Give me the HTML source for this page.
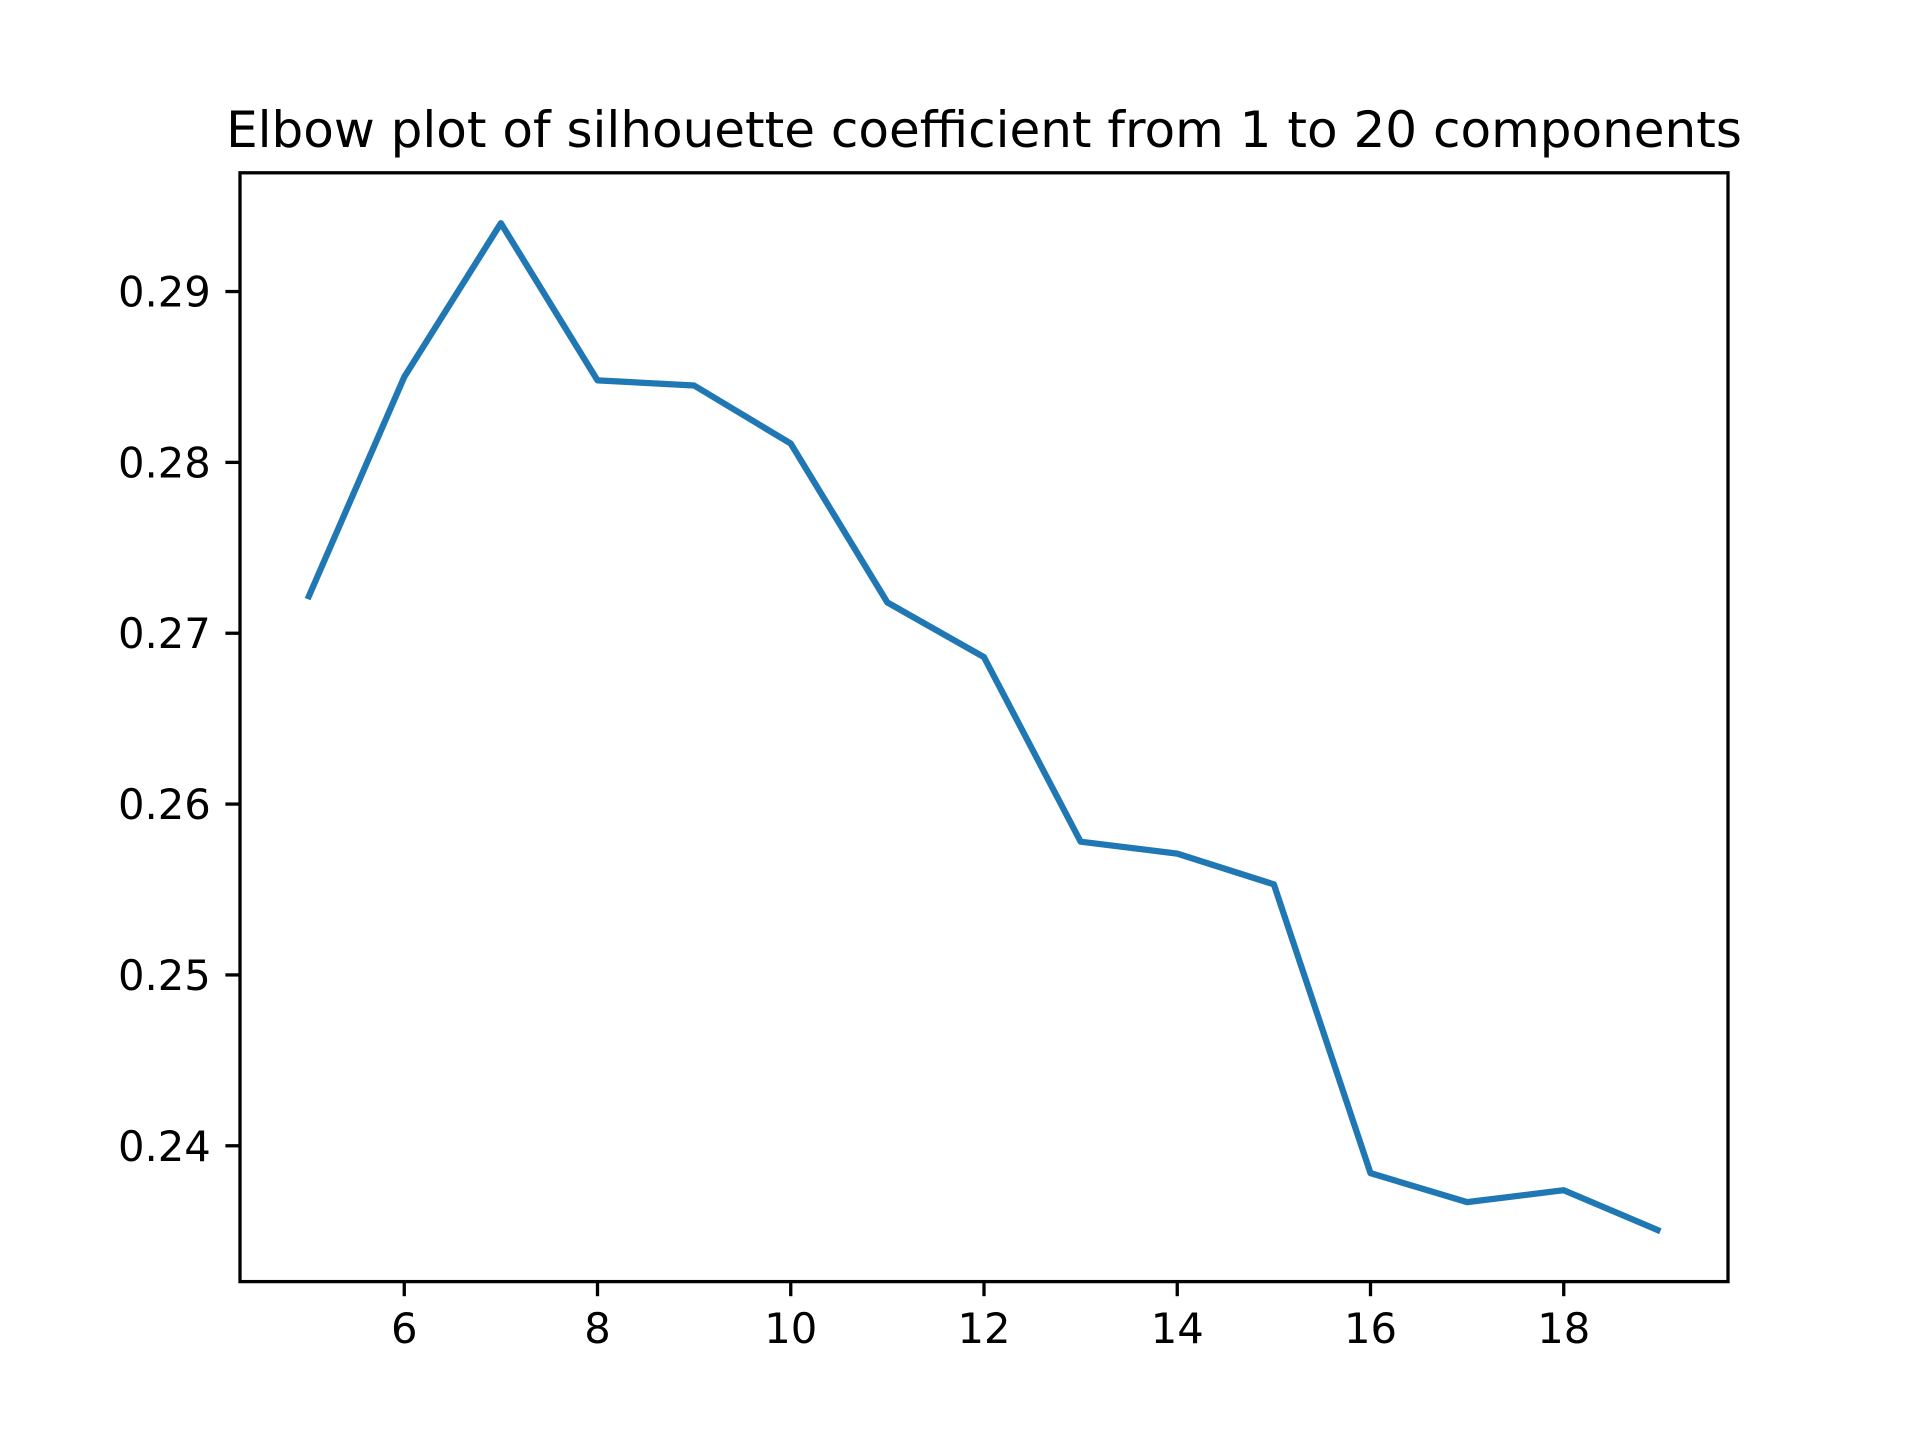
<!DOCTYPE html>
<html><head><meta charset="utf-8"><style>
html,body{margin:0;padding:0;background:#fff;}
svg text{font-family:"DejaVu Sans","Liberation Sans",sans-serif;fill:#000;}
</style></head><body>
<svg id="chart" width="1920" height="1440" viewBox="0 0 1920 1440" xmlns="http://www.w3.org/2000/svg">
<rect width="1920" height="1440" fill="#fff"/>
<text x="984" y="147" font-size="50" text-anchor="middle">Elbow plot of silhouette coefficient from 1 to 20 components</text>
<g id="xticks"></g>
<g id="yticks"></g>
<g id="series"></g>
<rect x="240" y="172.8" width="1488" height="1108.8" fill="none" stroke="#000" stroke-width="3.3"/>
</svg>
<script>
const components = [5,6,7,8,9,10,11,12,13,14,15,16,17,18,19];
const silhouette = [0.2720,0.2850,0.2940,0.2848,0.2845,0.2811,0.2718,0.2686,0.2578,0.2571,0.2553,0.2384,0.2367,0.2374,0.2350];
const xTickValues = [6,8,10,12,14,16,18];
const yTickValues = [0.24,0.25,0.26,0.27,0.28,0.29];
const yTickLabels = ["0.24","0.25","0.26","0.27","0.28","0.29"];

const L=240,R=1728,T=172.8,B=1281.6;
const xmin=Math.min(...components),xmax=Math.max(...components);
const xpad=(xmax-xmin)*0.05;
const ymin=Math.min(...silhouette),ymax=Math.max(...silhouette);
const ypad=(ymax-ymin)*0.05;
function xs(v){return L+(v-(xmin-xpad))/((xmax+xpad)-(xmin-xpad))*(R-L);}
function ys(v){return B-(v-(ymin-ypad))/((ymax+ypad)-(ymin-ypad))*(B-T);}
const NS="http://www.w3.org/2000/svg";
function mk(tag,attrs,parent){const e=document.createElementNS(NS,tag);for(const k in attrs)e.setAttribute(k,attrs[k]);parent.appendChild(e);return e;}

const gx=document.getElementById('xticks');
xTickValues.forEach(v=>{
  const x=xs(v);
  const t=mk('line',{x1:x,x2:x,y1:B,y2:B+14.6,stroke:'#000','stroke-width':3.3},gx);
  
  
  const l=mk('text',{x:x,y:B+14.6+14.6+32,'font-size':41.7,'text-anchor':'middle'},gx);
  l.textContent=String(v);
  
  
});
const gy=document.getElementById('yticks');
yTickValues.forEach((v,i)=>{
  const y=ys(v);
  const t=mk('line',{x1:L-14.6,x2:L,y1:y,y2:y,stroke:'#000','stroke-width':3.3},gy);
  
  
  const l=mk('text',{x:L-14.6-14.6,y:y+15,'font-size':41.7,'text-anchor':'end'},gy);
  l.textContent=yTickLabels[i];
  
  
});
const gs=document.getElementById('series');
const pts=components.map((c,i)=>xs(c)+','+ys(silhouette[i])).join(' ');
const pl=mk('polyline',{points:pts,fill:'none',stroke:'#1f77b4','stroke-width':6.25,'stroke-linejoin':'round','stroke-linecap':'butt'},gs);


</script>
</body></html>
